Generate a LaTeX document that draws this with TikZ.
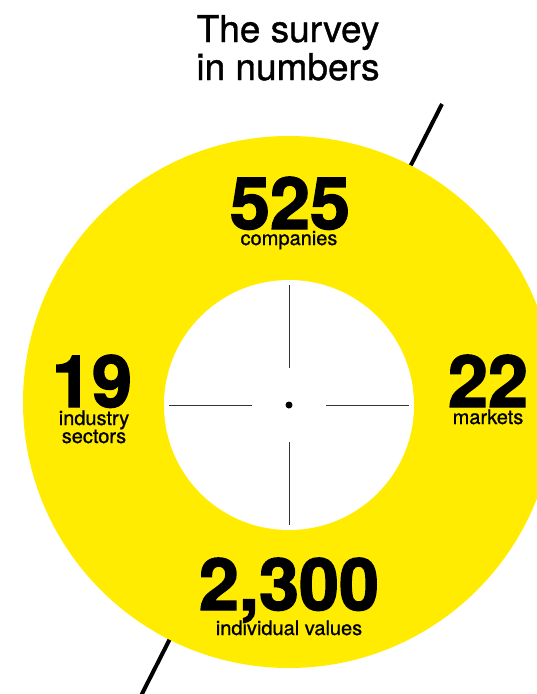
\documentclass[tikz,border=0pt]{standalone}
\usepackage{fontspec}
\setmainfont{TeX Gyre Heros}
\newfontfamily\mediumfont[FakeBold=1]{TeX Gyre Heros}
\newfontfamily\heavyfont[FakeBold=2]{TeX Gyre Heros Bold}
\usetikzlibrary{calc}
\definecolor{surveyyellow}{RGB}{255,236,0}
\tikzset{
  titletext/.style={font=\mediumfont\fontsize{37}{38}\selectfont, inner sep=0pt, anchor=base, align=center},
  bignum/.style={font=\heavyfont\fontsize{72}{72}\selectfont, inner sep=0pt, anchor=base},
  smalltext/.style={font=\mediumfont\fontsize{20}{18}\selectfont, inner sep=0pt, anchor=base, align=center},
  hair/.style={draw=black!80, line width=1pt}
}
\begin{document}
\begin{tikzpicture}[x=1pt, y=-1pt]
\useasboundingbox (0,0) rectangle (537,694);
\clip (0,0) rectangle (537,694);
\coordinate (centre) at (289,405);
\coordinate (lineend) at (442,104);
\coordinate (linefoot) at (120,737);
% title, base is the last line
\node[titletext] (title) at (288,80) {The survey\\in numbers};
\draw[line width=4pt] (lineend) -- (linefoot);
\fill[surveyyellow] (289,402) circle (266pt);
\fill[white] (centre) circle (125pt);
\foreach \a in {0,90,180,270}
  \draw[hair] ($(centre)+(\a:37pt)$) -- ($(centre)+(\a:120pt)$);
\fill (centre) circle (3.5pt);
\node[bignum] (companies) at (290,229) {525};
\node[smalltext] (companieslbl) at (289,245) {companies};
\node[bignum] (sectors) at (92,407) {19};
\node[smalltext] (sectorslbl) at (94,443) {industry\\sectors};
\node[bignum] (markets) at (488,407) {22};
\node[smalltext] (marketslbl) at (488,424) {markets};
\node[bignum] (values) at (289,610) {2,300};
\node[smalltext] (valueslbl) at (289,635) {individual values};
\end{tikzpicture}
\end{document}
